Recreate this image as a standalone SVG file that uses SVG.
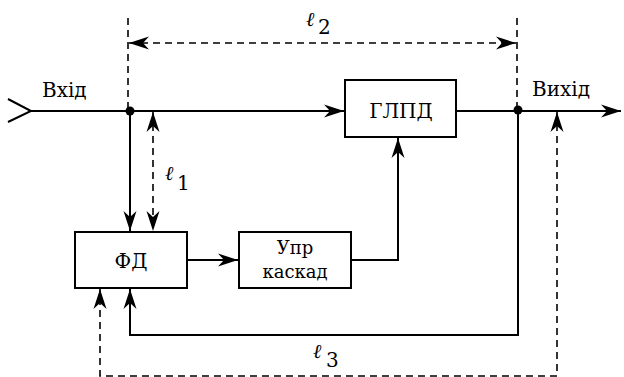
<svg xmlns="http://www.w3.org/2000/svg" width="624" height="377" viewBox="0 0 624 377">
<style>
.box{fill:#fff;stroke:#000;stroke-width:2}
.ln{fill:none;stroke:#000;stroke-width:2}
.dl{fill:none;stroke:#000;stroke-width:1.6;stroke-dasharray:7,5}
</style>
<defs>
<marker id="ah" markerWidth="22" markerHeight="14" refX="20" refY="7" orient="auto-start-reverse" markerUnits="userSpaceOnUse">
<path d="M0,0.5 L20,7 L0,13.5 L6,7 z" fill="#000"/>
</marker>
</defs>
<g id="connectors">
<polyline class="ln" points="8,99 31,111 8,122"/>
<line class="ln" x1="31" y1="111" x2="344" y2="111" marker-end="url(#ah)"/>
<line class="ln" x1="457" y1="111" x2="621" y2="111" marker-end="url(#ah)"/>
<line class="ln" x1="130" y1="111" x2="130" y2="231" marker-end="url(#ah)"/>
<line class="ln" x1="187" y1="260" x2="238" y2="260" marker-end="url(#ah)"/>
<polyline class="ln" points="351,260 398,260 398,138" marker-end="url(#ah)"/>
<polyline class="ln" points="518,111 518,335 130,335 130,289" marker-end="url(#ah)"/>
<circle cx="130" cy="111" r="4.5" fill="#000"/>
<circle cx="518" cy="110" r="4.5" fill="#000"/>
<line class="dl" x1="128" y1="18" x2="128" y2="111"/>
<line class="dl" x1="517" y1="18" x2="517" y2="111"/>
<line class="dl" x1="129" y1="43" x2="516" y2="43" marker-start="url(#ah)" marker-end="url(#ah)"/>
<line class="dl" x1="153" y1="112" x2="153" y2="231" marker-start="url(#ah)" marker-end="url(#ah)"/>
<polyline class="dl" points="557,112 557,376 100,376 100,289" marker-start="url(#ah)" marker-end="url(#ah)"/>
</g>
<g id="labels" font-family="DejaVu Serif, serif" font-size="20" fill="#000">
<text x="42" y="97">Вхід</text>
<text x="532" y="96">Вихід</text>
<text x="306" y="26" font-style="italic">ℓ</text><text x="318" y="34">2</text>
<text x="165" y="180" font-style="italic">ℓ</text><text x="177" y="190">1</text>
<text x="313" y="358" font-style="italic">ℓ</text><text x="326" y="367">3</text>
</g>
<g id="node-fd" font-family="DejaVu Serif, serif" font-size="20" fill="#000">
<rect class="box" x="75" y="232" width="112" height="56"/>
<text x="131" y="268" text-anchor="middle">ФД</text>
</g>
<g id="node-upr" font-family="DejaVu Serif, serif" font-size="18" fill="#000">
<rect class="box" x="239" y="232" width="112" height="56"/>
<text x="295" y="254" text-anchor="middle">Упр</text>
<text x="295" y="278" text-anchor="middle">каскад</text>
</g>
<g id="node-glpd" font-family="DejaVu Serif, serif" font-size="20" fill="#000">
<rect class="box" x="345" y="80" width="111" height="57"/>
<text x="401" y="118" text-anchor="middle">ГЛПД</text>
</g>
</svg>
